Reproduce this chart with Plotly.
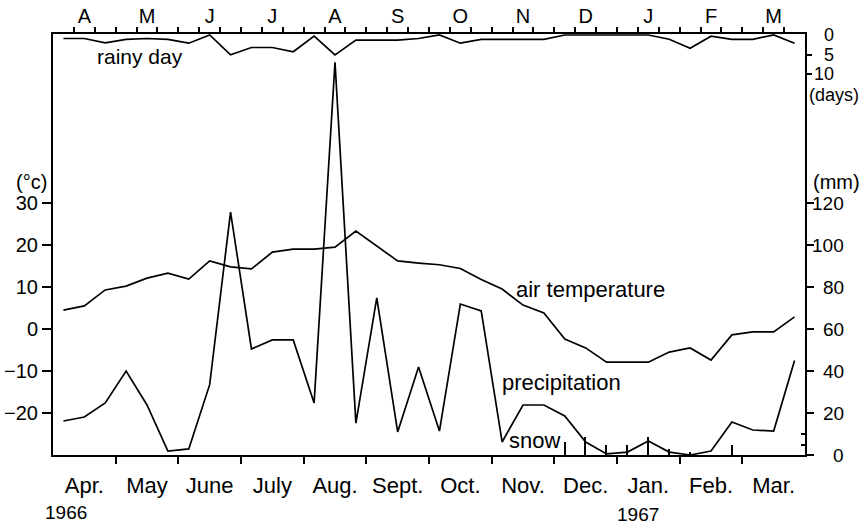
import plotly.graph_objects as go

# ---------------- data (dekads, Apr 1966 - Mar 1967) ----------------
air_temperature = [4.5, 5.5, 9.3, 10.2, 12.1, 13.3, 11.9, 16.2, 14.8, 14.3, 18.3, 19.0,
                   19.0, 19.5, 23.3, 19.8, 16.2, 15.7, 15.3, 14.4, 11.8, 9.5, 5.7, 3.8,
                   -2.4, -4.5, -7.9, -7.9, -7.9, -5.5, -4.5, -7.4, -1.4, -0.7, -0.7, 2.9]
precipitation = [16.2, 18.1, 24.8, 40.0, 23.8, 1.9, 2.9, 33.5, 115.7, 50.5, 54.8, 54.8,
                 24.8, 187.0, 15.2, 74.8, 11.0, 41.9, 11.4, 71.9, 68.6, 6.2, 23.8, 23.8,
                 18.6, 6.2, 0.5, 1.4, 6.7, 1.4, 0.0, 1.9, 15.7, 11.9, 11.4, 45.0]
snow = [0, 0, 0, 0, 0, 0, 0, 0, 0, 0, 0, 0,
        0, 0, 0, 0, 0, 0, 0, 0, 0, 0, 0, 0,
        6.2, 8.6, 4.8, 4.8, 8.6, 2.9, 1.4, 0, 4.8, 0, 0, 0]
rainy_day = [0.9, 0.9, 2.0, 1.1, 0.9, 1.1, 2.1, 0.0, 5.1, 3.2, 3.2, 4.3,
             0.3, 5.1, 1.3, 1.3, 1.3, 0.9, 0.0, 2.1, 1.1, 1.1, 1.1, 1.1,
             0.0, 0.0, 0.0, 0.0, 0.0, 1.1, 3.4, 0.3, 1.1, 1.1, 0.0, 2.1]

month_labels_bottom = ["Apr.", "May", "June", "July", "Aug.", "Sept.", "Oct.",
                       "Nov.", "Dec.", "Jan.", "Feb.", "Mar."]
month_labels_top = ["A", "M", "J", "J", "A", "S", "O", "N", "D", "J", "F", "M"]
temp_ticks = [-20, -10, 0, 10, 20, 30]
precip_ticks = [0, 20, 40, 60, 80, 100, 120]
snow_ticks = [5, 10]
rain_ticks = [0, 5, 10]

# ---------------- geometry ----------------
W, H = 866, 527
L, R, T, B = 53, 61, 34, 72
PW, PH = W - L - R, H - T - B

def px(x):
    return (x - L) / PW

def py(y):
    return (H - B - y) / PH

n = len(air_temperature)
xs = [i + 0.5 for i in range(n)]
mid_month = [1.5 + 3 * m for m in range(12)]
month_bounds = list(range(3, 36, 3))
dekad_bounds = list(range(1, 36))

FONT = "Liberation Sans"
BLK = "black"
LW = 1.7

fig = go.Figure()
fig.add_trace(go.Scatter(x=xs, y=air_temperature, mode="lines",
                         line=dict(color=BLK, width=LW), xaxis="x", yaxis="y",
                         showlegend=False))
fig.add_trace(go.Scatter(x=xs, y=precipitation, mode="lines",
                         line=dict(color=BLK, width=LW), xaxis="x", yaxis="y2",
                         showlegend=False))
fig.add_trace(go.Bar(x=xs, y=snow, width=0.07, marker=dict(color=BLK, line=dict(width=0)),
                     xaxis="x", yaxis="y2", showlegend=False))
fig.add_trace(go.Scatter(x=xs, y=rainy_day, mode="lines",
                         line=dict(color=BLK, width=LW), xaxis="x2", yaxis="y3",
                         showlegend=False))

temp_range = [-30, -30 + 60 * PH / 252.0]
precip_range = [0, 120 * PH / 252.0]
rain_top = -1.0 / 3.9
rain_range = [rain_top + PH / 3.9, rain_top]

axis_common = dict(showgrid=False, zeroline=False, color=BLK, automargin=False)

annotations = []
for v in precip_ticks:
    annotations.append(dict(x=px(846), y=v, xref="paper", yref="y2", text=str(v),
                            showarrow=False, xanchor="right", yanchor="middle",
                            font=dict(family=FONT, size=19, color=BLK)))
for v in rain_ticks:
    annotations.append(dict(x=px(836), y=v, xref="paper", yref="y3", text=str(v),
                            showarrow=False, xanchor="right", yanchor="middle",
                            font=dict(family=FONT, size=18, color=BLK)))

labels = [
    ("(°c)", 31, 182, 20),
    ("(mm)", 836, 182, 20),
    ("(days)", 834, 95, 18),
    ("1966", 66, 512, 19),
    ("1967", 638, 514, 19),
    ("rainy day", 140, 57, 21),
    ("air temperature", 590, 289, 22),
    ("precipitation", 561, 382, 22),
    ("snow", 534, 440, 22),
]
for text, x, y, s in labels:
    annotations.append(dict(x=px(x), y=py(y), xref="paper", yref="paper", text=text,
                            showarrow=False, xanchor="center", yanchor="middle",
                            font=dict(family=FONT, size=s, color=BLK)))

fig.update_layout(
    width=W, height=H,
    margin=dict(l=L, r=R, t=T, b=B, pad=0, autoexpand=False),
    paper_bgcolor="white", plot_bgcolor="white",
    font=dict(family=FONT, color=BLK, size=18),
    bargap=0,
    xaxis=dict(range=[0, 36], tickvals=mid_month, ticktext=month_labels_bottom,
               ticks="", ticklabelstandoff=10, tickfont=dict(size=22),
               showline=True, linewidth=2, linecolor=BLK,
               minor=dict(tickvals=month_bounds, ticks="outside", ticklen=7,
                          tickwidth=2, tickcolor=BLK),
               **axis_common),
    xaxis2=dict(range=[0, 36], overlaying="x", side="top", anchor="y",
                tickvals=mid_month, ticktext=month_labels_top, ticks="",
                ticklabelstandoff=1, tickfont=dict(size=20),
                showline=True, linewidth=2, linecolor=BLK,
                minor=dict(tickvals=dekad_bounds, ticks="outside", ticklen=5,
                           tickwidth=1.5, tickcolor=BLK),
                **axis_common),
    yaxis=dict(range=temp_range, tickvals=temp_ticks, ticks="outside", ticklen=9,
               tickwidth=2, tickcolor=BLK, showline=True, linewidth=2, linecolor=BLK,
               tickfont=dict(size=20), **axis_common),
    yaxis2=dict(range=precip_range, overlaying="y", side="right", anchor="x",
                tickvals=precip_ticks, ticks="outside", ticklen=7, tickwidth=2,
                tickcolor=BLK, showticklabels=False, showline=True, linewidth=2,
                linecolor=BLK,
                minor=dict(tickvals=snow_ticks, ticks="inside", ticklen=4,
                           tickwidth=2, tickcolor=BLK),
                **axis_common),
    yaxis3=dict(range=rain_range, overlaying="y", side="right", anchor="x2",
                tickvals=rain_ticks[1:], ticks="outside", ticklen=6, tickwidth=2,
                tickcolor=BLK, showticklabels=False, showline=False,
                **axis_common),
    annotations=annotations,
)

fig.write_html("out.html")
